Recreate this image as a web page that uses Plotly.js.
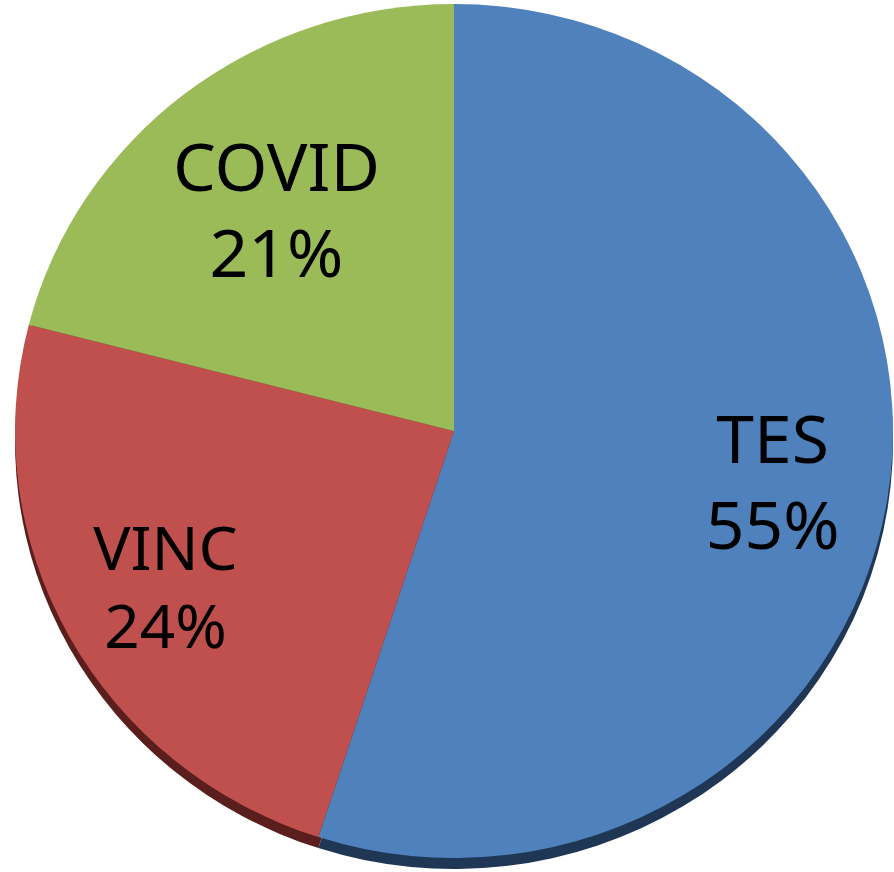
<!DOCTYPE html>
<html>
<head>
<meta charset="utf-8">
<script src="https://cdn.plot.ly/plotly-3.0.1.min.js"></script>
<style>
html,body{margin:0;padding:0;background:#fff;overflow:hidden;}
#chart{width:894px;height:872px;transform:scaleX(1.028);transform-origin:454px 0;}
</style>
</head>
<body>
<div id="chart"></div>
<script>
const categories = ["TES", "VINC", "COVID"];
const shares = [55, 24, 21];
const faceColors = ["#4F81BD", "#C0504D", "#9BBB59"];
const rimColors = ["#1F3654", "#5A1F1D", "#4A5E28"];
// radial placement of each slice's label (as a ring hole fraction)
const labelHoles = [0.47, 0.5, 0.32];

const W = 894, H = 872;
const cx = 454, cy = 431, R = 427, depth = 11;

function dom(cxp, cyp, r) {
  return {
    x: [Math.max(0, (cxp - r - 10) / W), Math.min(1, (cxp + r + 10) / W)],
    y: [Math.max(0, 1 - (cyp + r) / H), Math.min(1, 1 - (cyp - r) / H)]
  };
}

const common = {
  type: "pie",
  labels: categories,
  values: shares,
  sort: false,
  direction: "clockwise",
  rotation: 0,
  showlegend: false
};

const rim = Object.assign({}, common, {
  marker: {colors: rimColors, line: {width: 0}},
  textinfo: "none",
  hoverinfo: "skip",
  domain: dom(cx, cy + depth, R)
});

const face = Object.assign({}, common, {
  marker: {colors: faceColors, line: {width: 0}},
  textinfo: "none",
  hoverinfo: "label+percent",
  domain: dom(cx, cy, R)
});

const labelLayers = categories.map(function (c, i) {
  return Object.assign({}, common, {
    hole: labelHoles[i],
    marker: {colors: categories.map(function () { return "rgba(0,0,0,0)"; }), line: {width: 0}},
    texttemplate: categories.map(function (_, j) { return j === i ? "%{label}<br>%{percent:.0%}" : ""; }),
    textposition: "inside",
    insidetextorientation: "horizontal",
    insidetextfont: {family: "Noto Sans, sans-serif", size: 66, color: "#000000"},
    hoverinfo: "skip",
    domain: dom(cx, cy, R)
  });
});

const layout = {
  width: W,
  height: H,
  margin: {l: 0, r: 0, t: 0, b: 0, pad: 0},
  paper_bgcolor: "rgba(0,0,0,0)",
  showlegend: false
};

Plotly.newPlot("chart", [rim, face].concat(labelLayers), layout, {displayModeBar: false, staticPlot: true});
</script>
</body>
</html>
